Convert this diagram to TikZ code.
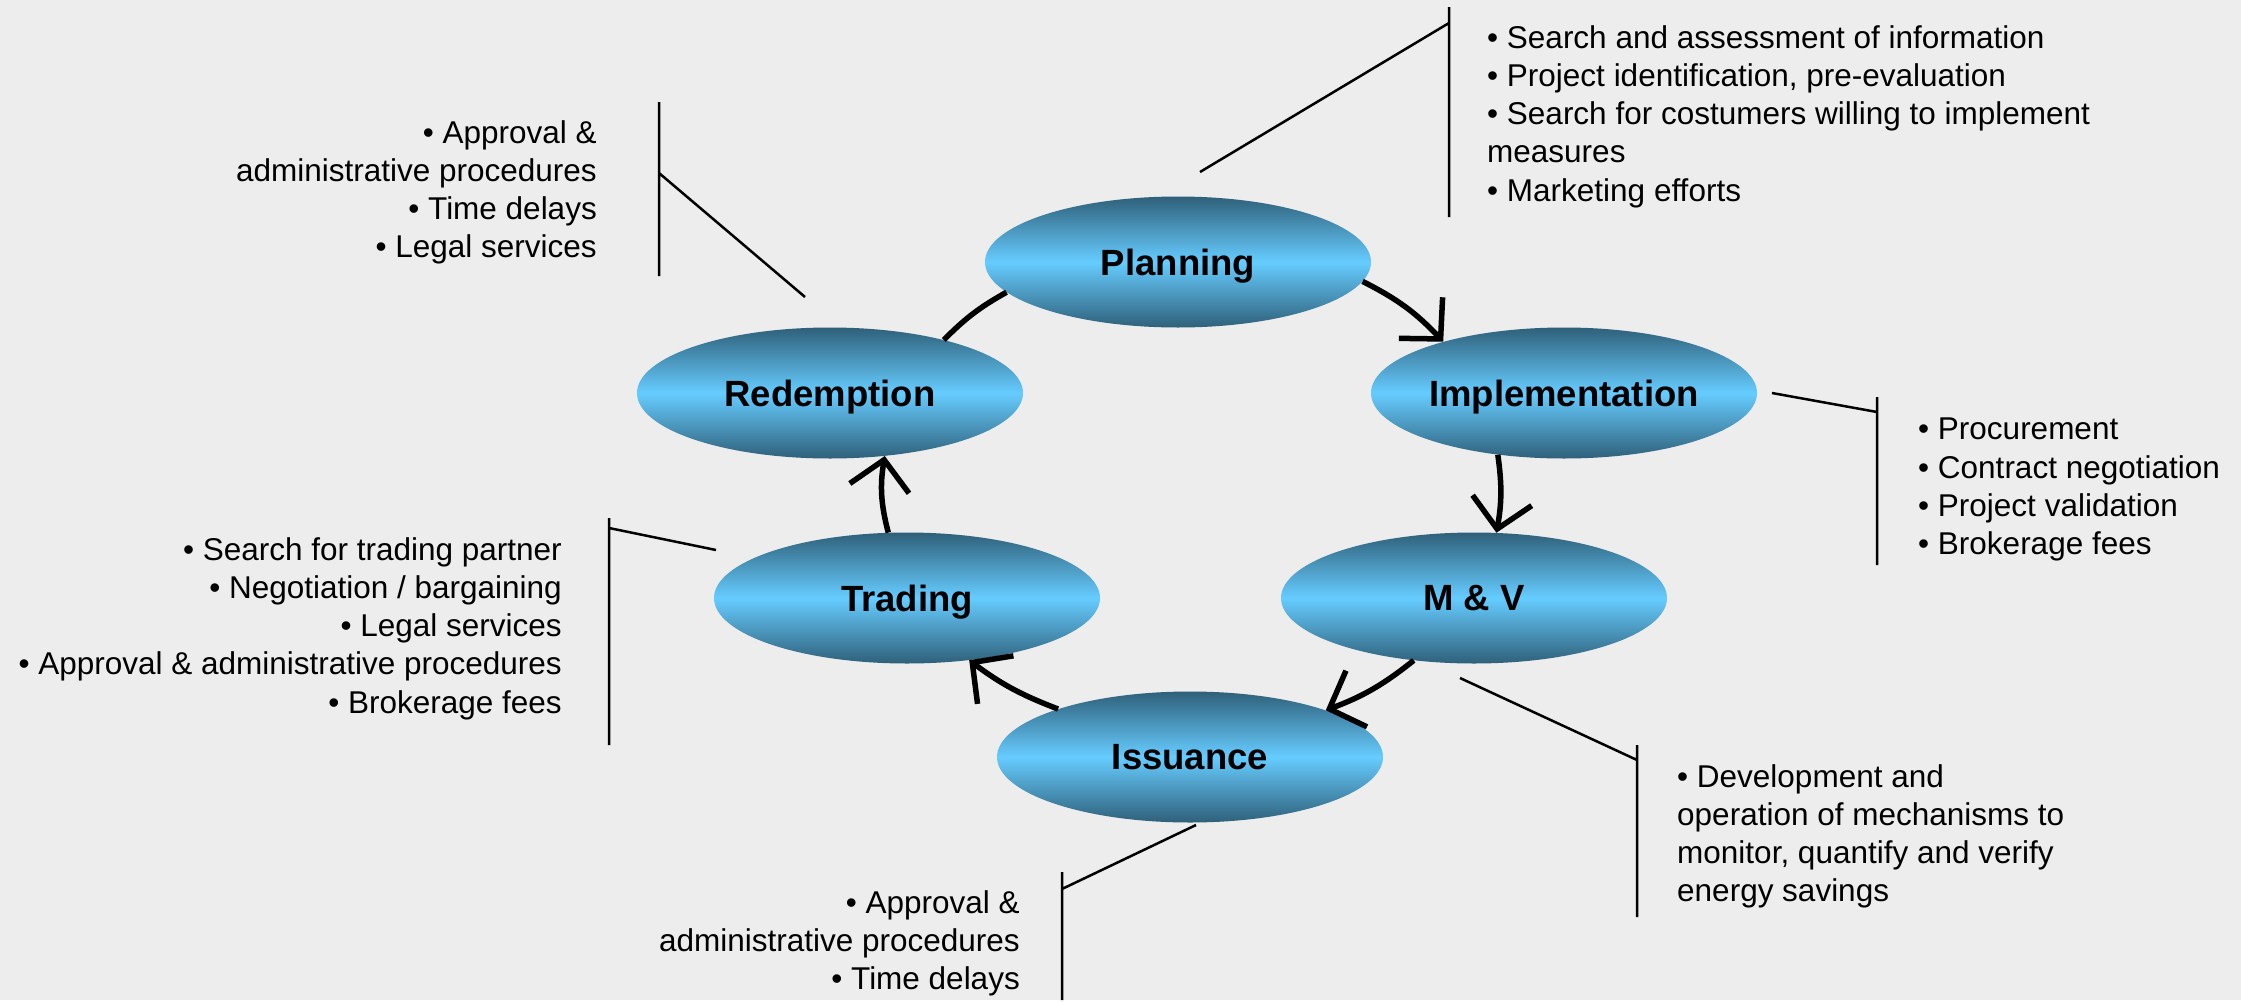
\documentclass[tikz,border=0pt]{standalone}
\usepackage{fontspec}
\setmainfont{Liberation Sans}
\usetikzlibrary{shapes.geometric,arrows.meta}

\definecolor{bggray}{RGB}{237,237,237}
\definecolor{phasedark}{RGB}{47,96,122}
\definecolor{phaselight}{RGB}{102,204,255}

\def\notesize{\fontsize{31.5}{38.3}\selectfont}
\def\phasesize{\fontsize{36.5}{44}\selectfont\bfseries}

\begin{document}
\begin{tikzpicture}[x=1pt, y=1pt,
    phase/.style={ellipse, minimum width=386pt, minimum height=131pt, inner sep=0pt,
      text depth=0pt, top color=phasedark, bottom color=phasedark, middle color=phaselight,
      font=\phasesize},
    flow/.style={line width=5.5pt, -{Straight Barb[length=29pt, width=60pt]}},
    loopback/.style={line width=5.5pt},
    note/.style={inner sep=0pt, font=\notesize},
    callout/.style={line width=2.5pt}]
  \fill[bggray] (0,0) rectangle (2241,-1000);

  % phases of the cycle
  \node[phase] (plan) at (1178,-262) {Planning};
  \node[phase] (impl) at (1564,-393) {Implementation};
  \node[phase] (mv) at (1474,-598) {M \& V};
  \node[phase] (iss) at (1190,-757) {Issuance};
  \node[phase] (trade) at (907,-598) {Trading};
  \node[phase] (redeem) at (830,-393) {Redemption};

  % cycle arrows
  \draw[flow] (plan.-6.6) to[bend left=10] (impl.157.6);
  \draw[flow] (impl.223.2) to[bend left=9] (mv.71.3);
  \draw[flow] (mv.226.4) to[bend left=9] (iss.19.5);
  \draw[flow] (iss.160.3) to[bend left=8] (trade.-45.5);
  \draw[flow] (trade.106.9) to[bend left=12] (redeem.-49.8);
  \draw[loopback] (redeem.25.6) to[bend left=8] (plan.190);

  % cost notes
  \node[note, anchor=north west, align=left] (plannote) at (1487,-25)
    {• Search and assessment of information\\• Project identification, pre-evaluation\\• Search for costumers willing to implement\\measures\\• Marketing efforts};
  \node[note, anchor=north east, align=right] (redeemnote) at (597,-120)
    {• Approval \&\\administrative procedures\\• Time delays\\• Legal services};
  \node[note, anchor=north west, align=left] (implnote) at (1918,-418)
    {• Procurement\\• Contract negotiation\\• Project validation\\• Brokerage fees};
  \node[note, anchor=north east, align=right] (tradenote) at (562,-537)
    {• Search for trading partner\\• Negotiation / bargaining\\• Legal services\\• Approval \& administrative procedures\\• Brokerage fees};
  \node[note, anchor=north west, align=left] (mvnote) at (1677,-764)
    {• Development and\\operation of mechanisms to\\monitor, quantify and verify\\energy savings};
  \node[note, anchor=north east, align=right] (issnote) at (1020,-890)
    {• Approval \&\\administrative procedures\\• Time delays};

  % brackets
  \draw[callout] (1200,-172) -- (1449,-23) (1449,-7) -- (1449,-217);
  \draw[callout] (805,-297) -- (659,-173) (659,-102) -- (659,-276);
  \draw[callout] (1772,-393) -- (1877,-412) (1877,-397) -- (1877,-565);
  \draw[callout] (716,-550) -- (609,-528) (609,-518) -- (609,-745);
  \draw[callout] (1460,-678) -- (1637,-760) (1637,-745) -- (1637,-917);
  \draw[callout] (1196,-825) -- (1062,-889) (1062,-872) -- (1062,-1000);
\end{tikzpicture}
\end{document}
